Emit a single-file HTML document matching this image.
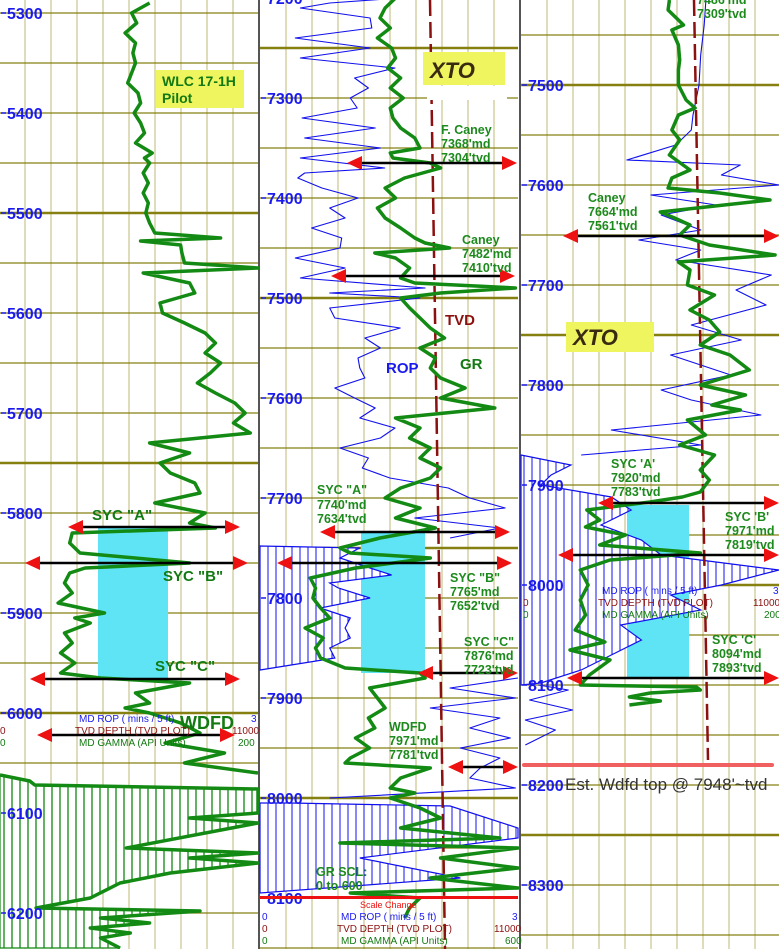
<!DOCTYPE html>
<html><head><meta charset="utf-8">
<style>
html,body{margin:0;padding:0;background:#fff;width:779px;height:949px;overflow:hidden}
svg{display:block;font-family:"Liberation Sans",sans-serif}
</style></head>
<body>
<svg id="chart" width="779" height="949" viewBox="0 0 779 949" xmlns="http://www.w3.org/2000/svg">
<defs>
<pattern id="hatchG" width="8" height="10" patternUnits="userSpaceOnUse"><rect width="8" height="10" fill="#fff"/><line x1="4" y1="0" x2="4" y2="10" stroke="#118811" stroke-width="1.3"/></pattern>
<pattern id="hatchB" width="8" height="10" patternUnits="userSpaceOnUse"><rect width="8" height="10" fill="#fff"/><line x1="4" y1="0" x2="4" y2="10" stroke="#1010ee" stroke-width="1"/></pattern>
</defs>
<g id="layer-bg"></g>
<g id="layer-fill"></g>
<g id="layer-curves"></g>
<g id="layer-ann"></g>
</svg>
<script>
// ---------- DATA ----------
const p1Ticks = [5300,5400,5500,5600,5700,5800,5900,6000,6100,6200];
const p2Ticks = [7200,7300,7400,7500,7600,7700,7800,7900,8000,8100];
const p3Ticks = [7500,7600,7700,7800,7900,8000,8100,8200,8300];

const p1GrDepth = [5290,5300,5310,5320,5330,5340,5350,5360,5370,5380,5390,5400,5410,5420,5430,5440,5445,5450,5460,5470,5480,5490,5500,5510,5520,5525,5528,5532,5540,5550,5555,5560,5570,5580,5590,5600,5610,5620,5630,5640,5650,5660,5670,5680,5690,5700,5710,5720,5730,5740,5750,5760,5770,5780,5790,5800,5810,5815,5820,5830,5840,5850,5855,5860,5870,5880,5890,5900,5905,5910,5920,5930,5940,5950,5960,5965,5970,5980,5990,5995,6000,6010,6020,6030,6040,6050,6060];
const p1Gr = [116,102,106,97,105,103,105,102,99,107,109,104,109,112,105,118,112,116,111,115,111,115,113,116,120,171,109,140,141,143,200,111,147,151,124,126,143,159,167,159,171,163,153,167,182,190,181,194,116,147,124,132,151,155,120,159,147,167,56,54,62,147,66,54,50,56,45,81,58,70,50,56,47,58,47,78,147,105,116,97,116,140,155,128,174,143,200];
const p1BackDepth = [6062,6068,6072,6076,6100,6105,6110,6135,6140,6145,6150,6160,6170,6185,6195,6198,6205,6210,6215,6220,6225,6235];
const p1Back = [0,23,27,200,200,147,200,98,200,147,200,132,93,70,28,155,78,116,70,101,78,93];

const p2GrDepth = [7200,7210,7220,7230,7240,7250,7260,7270,7280,7290,7300,7310,7320,7330,7340,7350,7355,7360,7365,7370,7380,7390,7400,7410,7420,7430,7440,7445,7450,7455,7460,7470,7480,7485,7490,7495,7500,7510,7520,7530,7540,7550,7560,7570,7580,7590,7600,7610,7620,7630,7640,7650,7660,7670,7680,7690,7700,7710,7720,7730,7740,7750,7755,7760,7770,7780,7790,7800,7810,7820,7830,7840,7850,7860,7870,7875,7880,7890,7900,7910,7920,7930,7940,7950,7960,7965,7970,7980,7990,7995,8000,8010,8020,8030,8040,8045,8050,8060,8070,8080,8090,8095,8100,8110,8120];
const p2Gr = [105,97,93,101,91,102,105,99,109,101,111,101,103,109,120,124,101,103,132,140,112,97,105,91,97,109,120,128,147,89,105,116,109,120,198,140,109,116,124,132,143,124,136,132,140,159,140,182,105,124,116,132,124,140,132,109,97,124,105,136,93,62,70,132,74,39,43,41,47,54,35,49,43,47,66,124,128,85,91,97,84,89,74,85,70,66,132,109,101,120,101,124,140,109,186,62,200,140,200,132,200,70,124,116,112];
const p2RopDepth = [7200,7205,7210,7220,7230,7240,7250,7260,7270,7280,7290,7300,7310,7320,7330,7340,7350,7360,7370,7375,7380,7390,7400,7410,7420,7430,7440,7450,7460,7470,7480,7490,7495,7500,7510,7520,7530,7540,7550,7560,7570,7580,7590,7600,7610,7620,7630,7640,7650,7660,7670,7680,7690,7700,7710,7720,7730,7740];
const p2Rop = [1.63,0.81,0.47,1.28,1.30,0.41,1.28,0.47,1.57,1.10,1.26,1.05,1.13,0.49,1.34,0.52,1.40,0.47,1.45,0.52,0.44,0.72,1.14,0.81,0.99,0.60,0.95,0.93,0.41,0.99,0.47,1.92,0.81,1.86,0.81,0.87,1.63,1.22,1.40,1.14,1.16,1.22,0.87,1.10,1.34,1.16,1.57,1.40,0.93,1.26,1.19,1.51,2.19,2.44,2.85,1.80,2.79,2.21];
const p2Rop2Depth = [7880,7890,7900,7910,7920,7930,7940,7950,7960,7970,7980,7990,8000];
const p2Rop2 = [3.0,2.21,2.97,1.98,2.79,2.44,2.91,2.33,2.79,2.56,2.44,2.97,0.81];
const p2HatchADepth = [7748,7750,7760,7770,7777,7785,7790,7800,7810,7820,7830,7840,7850,7860,7872];
const p2HatchA = [0,1.16,0.93,1.28,1.53,0.81,0.91,1.28,0.70,1.05,0.99,1.05,0.81,0.87,0];
const p2HatchBDepth = [8005,8008,8030,8040,8060,8080,8095];
const p2HatchB = [0.35,2.21,3.0,3.0,1.16,2.33,0];

const p3GrDepth = [7415,7425,7440,7445,7460,7475,7485,7500,7515,7523,7530,7545,7555,7570,7585,7593,7603,7608,7615,7627,7633,7640,7650,7660,7670,7677,7685,7700,7710,7725,7735,7747,7760,7770,7785,7800,7810,7820,7825,7835,7850,7860,7870,7885,7895,7907,7912,7917,7925,7935,7942,7950,7960,7968,7975,7985,8000,8015,8030,8045,8057,8065,8075,8090,8100,8102,8105,8108,8112,8116,8120];
const p3Gr = [115,114,126,117,122,123,122,122,128,135,122,117,123,115,131,117,114,154,193,108,119,131,123,146,197,122,131,129,150,131,146,154,139,162,177,139,174,148,170,129,143,123,150,139,146,139,125,100,51,61,50,81,61,139,69,46,52,46,50,42,65,38,69,53,46,136,139,100,84,108,84];
const p3RopDepth = [7415,7440,7470,7500,7530,7545,7560,7575,7580,7590,7600,7610,7620,7630,7645,7655,7665,7675,7690,7705,7720,7740,7755,7770,7790,7805,7815,7830,7845,7860,7870];
const p3Rop = [2.15,2.13,2.09,2.07,2.00,1.98,1.80,1.23,2.55,2.33,3.0,1.51,2.27,1.63,2.09,1.37,2.09,1.80,2.91,2.50,2.85,1.98,2.56,1.74,2.44,1.63,1.98,2.79,1.05,2.09,0.70];
const p3HatchDepth = [7870,7880,7890,7900,7912,7925,7940,7955,7970,7985,8000,8010,8025,8040,8055,8070,8085,8098,8100];
const p3Hatch = [0,0.58,0.35,0.23,1.05,1.28,0.93,1.40,1.63,3.0,2.33,1.74,2.09,1.16,1.40,1.05,0.70,0.23,0];
const p3Rop2Depth = [8100,8105,8115,8125,8135,8145,8160];
const p3Rop2 = [0.2,0.55,0.1,0.6,0.05,0.4,0.05];

// ---------- SCALES ----------
const W = 258;
const P = [
  {x0:0,   y0:13, d0:5300},
  {x0:260, y0:98, d0:7300},
  {x0:521, y0:85, d0:7500}
];
const GRMAX = 200, ROPMAX = 3;
function yAt(p,d){return P[p].y0 + (d - P[p].d0);}
function xGr(p,v){return P[p].x0 + Math.min(v,GRMAX)/GRMAX*W;}
function xRop(p,v){return P[p].x0 + Math.min(v,ROPMAX)/ROPMAX*W;}

const NS = "http://www.w3.org/2000/svg";
function mk(tag, attrs, parent){const e=document.createElementNS(NS,tag);for(const k in attrs)e.setAttribute(k,attrs[k]);parent.appendChild(e);return e;}
const bg=document.getElementById('layer-bg'), fl=document.getElementById('layer-fill'), cv=document.getElementById('layer-curves'), an=document.getElementById('layer-ann');

// ---------- GRID ----------
const gridOff=[25,26,26];
const allTicks=[p1Ticks,p2Ticks,p3Ticks];
for(let p=0;p<3;p++){
  const x0=P[p].x0;
  for(let gx=x0+gridOff[p]; gx<x0+W; gx+=26){
    const l=mk('line',{x1:gx,y1:0,x2:gx,y2:949,stroke:'#c9c58e','stroke-width':1.2},bg);
    
    
  }
  const dStart=P[p].d0-Math.floor(P[p].y0/50)*50-50;
  for(let d=dStart; yAt(p,d)<960; d+=50){
    const y=yAt(p,d); if(y<0)continue;
    const major=(d%250===0);
    const l=mk('line',{x1:x0,y1:y,x2:x0+W,y2:y,stroke:'#858010','stroke-width':major?2.5:1.3},bg);
    
    
  }
  allTicks[p].forEach(d=>{
    const y=yAt(p,d);
    const t=mk('text',{x:x0+7,y:y+6,'font-size':16,'font-weight':'bold',fill:'#1a1aee'},an);
    t.textContent=d;
    
    
    mk('line',{x1:x0+1,y1:y,x2:x0+6,y2:y,stroke:'#1a1aee','stroke-width':1.5},an);
  });
}
[258,519].forEach(x=>{
  const s=mk('rect',{x:x,y:0,width:2,height:949,fill:'#555'},bg);
  
  
});

// ---------- CYAN SYC ZONES ----------
[[0,98,527,70,152],[1,361,532,64,141],[2,627,505,62,174]].forEach(z=>{
  const r=mk('rect',{x:z[1],y:z[2],width:z[3],height:z[4],fill:'#5ee4f5'},fl);
  
  
});

function ptsOf(p,depths,vals,xf){return depths.map((d,i)=>xf(p,vals[i]).toFixed(1)+','+yAt(p,d).toFixed(1)).join(' ');}
function hatch(p,depths,vals,xf,pat,stroke,name){
  const pts=ptsOf(p,depths,vals,xf);
  const x0=P[p].x0;
  const poly=x0+','+yAt(p,depths[0])+' '+pts+' '+x0+','+yAt(p,depths[depths.length-1]);
  const g=mk('polygon',{points:poly,fill:'url(#'+pat+')',stroke:stroke,'stroke-width':1.2},fl);
  
  
}
function line(p,depths,vals,xf,color,w,name){
  const l=mk('polyline',{points:ptsOf(p,depths,vals,xf),fill:'none',stroke:color,'stroke-width':w,'stroke-linejoin':'round'},cv);
  
  
}

hatch(0,p1BackDepth,p1Back,xGr,'hatchG','#118811','gamma-backup-fill');
hatch(1,p2HatchADepth,p2HatchA,xRop,'hatchB','#1010ee','rop-wrap-fill');
hatch(1,p2HatchBDepth,p2HatchB,xRop,'hatchB','#1010ee','rop-wrap-fill');
hatch(2,p3HatchDepth,p3Hatch,xRop,'hatchB','#1010ee','rop-wrap-fill');

line(1,p2RopDepth,p2Rop,xRop,'#1010ee',1.1,'rop-curve');
line(1,p2Rop2Depth,p2Rop2,xRop,'#1010ee',1.1,'rop-curve');
line(2,p3RopDepth,p3Rop,xRop,'#1010ee',1.1,'rop-curve');
line(2,p3Rop2Depth,p3Rop2,xRop,'#1010ee',1.1,'rop-curve');

[[1,430,0,445,949],[2,694,0,708,760]].forEach(t=>{
  const l=mk('line',{x1:t[1],y1:t[2],x2:t[3],y2:t[4],stroke:'#8b1010','stroke-width':2.5,'stroke-dasharray':'16,6'},cv);
  
  
});

line(0,p1GrDepth,p1Gr,xGr,'#138a13',3.5,'gamma-curve');
line(0,p1BackDepth,p1Back,xGr,'#138a13',3.5,'gamma-backup-curve');
line(1,p2GrDepth,p2Gr,xGr,'#138a13',3.5,'gamma-curve');
line(2,p3GrDepth,p3Gr,xGr,'#138a13',3.5,'gamma-curve');

const markers=[[68,240,527],[25,248,563],[30,240,679],[37,235,735],[347,517,163],[331,515,276],[320,510,532],[277,512,563],[418,518,673],[448,518,767],[563,779,236],[598,779,503],[558,779,555],[567,779,678]];
markers.forEach(m=>{
  const g=mk('g',{},an);
  
  
  mk('line',{x1:m[0]+12,y1:m[2],x2:m[1]-12,y2:m[2],stroke:'#000','stroke-width':2.5},g);
  mk('polygon',{points:`${m[0]},${m[2]} ${m[0]+15},${m[2]-7} ${m[0]+15},${m[2]+7}`,fill:'#ee1111'},g);
  mk('polygon',{points:`${m[1]},${m[2]} ${m[1]-15},${m[2]-7} ${m[1]-15},${m[2]+7}`,fill:'#ee1111'},g);
});

let r=mk('rect',{x:260,y:896,width:258,height:3,fill:'#ee1111'},an);


r=mk('rect',{x:522,y:763,width:252,height:4,rx:2,fill:'#f06060'},an);


</script>

<svg style="position:absolute;left:0;top:0" width="779" height="949" xmlns="http://www.w3.org/2000/svg">
<g font-family="Liberation Sans, sans-serif">
  <rect x="156" y="70" width="88" height="38" fill="#eef55e"/>
  <text x="162" y="86" font-size="14" font-weight="bold" fill="#137a13">WLC 17-1H</text>
  <text x="162" y="103" font-size="14" font-weight="bold" fill="#137a13">Pilot</text>

  <g>
    <rect x="423" y="52" width="82" height="33" fill="#eef55e"/>
    <text x="430" y="78" font-size="22" font-weight="bold" font-style="italic" fill="#3a2a10">XTO</text>
    <rect x="427" y="86" width="80" height="14" fill="#fff"/>
  </g>
  <g>
    <rect x="566" y="322" width="88" height="30" fill="#eef55e"/>
    <text x="573" y="345" font-size="22" font-weight="bold" font-style="italic" fill="#3a2a10">XTO</text>
  </g>

  <g font-weight="bold" fill="#137a13" font-size="15">
    <text x="92" y="520">SYC "A"</text>
    <text x="163" y="581">SYC "B"</text>
    <text x="155" y="671">SYC "C"</text>
    <text x="180" y="729" font-size="18">WDFD</text>
  </g>

  <g font-size="12.5" font-weight="bold" fill="#1d8a1d">
    <text x="441" y="134">F. Caney</text><text x="441" y="148">7368'md</text><text x="441" y="162">7304'tvd</text>
    <text x="462" y="244">Caney</text><text x="462" y="258">7482'md</text><text x="462" y="272">7410'tvd</text>
    <text x="317" y="494">SYC "A"</text><text x="317" y="509">7740'md</text><text x="317" y="523">7634'tvd</text>
    <text x="450" y="582">SYC "B"</text><text x="450" y="596">7765'md</text><text x="450" y="610">7652'tvd</text>
    <text x="464" y="646">SYC "C"</text><text x="464" y="660">7876'md</text><text x="464" y="674">7723'tvd</text>
    <text x="389" y="731">WDFD</text><text x="389" y="745">7971'md</text><text x="389" y="759">7781'tvd</text>
    <text x="316" y="876">GR SCL:</text><text x="316" y="890">0 to 600</text>
    <text x="697" y="4">7486'md</text><text x="697" y="18">7309'tvd</text>
    <text x="588" y="202">Caney</text><text x="588" y="216">7664'md</text><text x="588" y="230">7561'tvd</text>
    <text x="611" y="468">SYC 'A'</text><text x="611" y="482">7920'md</text><text x="611" y="496">7783'tvd</text>
    <text x="725" y="521">SYC 'B'</text><text x="725" y="535">7971'md</text><text x="725" y="549">7819'tvd</text>
    <text x="712" y="644">SYC 'C'</text><text x="712" y="658">8094'md</text><text x="712" y="672">7893'tvd</text>
  </g>

  <text x="445" y="325" font-size="15" font-weight="bold" fill="#8b1010">TVD</text>
  <text x="460" y="369" font-size="15" font-weight="bold" fill="#137a13">GR</text>
  <text x="386" y="373" font-size="15" font-weight="bold" fill="#1a1aee">ROP</text>

  <g font-size="10">
    <text x="79" y="722" fill="#1a1aee">MD  ROP ( mins / 5 ft)</text>
    <text x="75" y="734" fill="#8b1010">TVD DEPTH (TVD PLOT)</text>
    <text x="79" y="746" fill="#137a13">MD GAMMA (API Units)</text>
    <text x="251" y="722" fill="#1a1aee">3</text>
    <text x="232" y="734" fill="#8b1010">11000</text>
    <text x="238" y="746" fill="#137a13">200</text>
    <text x="0" y="734" fill="#8b1010">0</text>
    <text x="0" y="746" fill="#137a13">0</text>
  </g>
  <g font-size="10">
    <text x="360" y="908" fill="#ee1111" font-size="9">Scale Change</text>
    <text x="341" y="920" fill="#1a1aee">MD  ROP ( mins / 5 ft)</text>
    <text x="337" y="932" fill="#8b1010">TVD DEPTH (TVD PLOT)</text>
    <text x="341" y="944" fill="#137a13">MD GAMMA (API Units)</text>
    <text x="262" y="920" fill="#1a1aee">0</text><text x="262" y="932" fill="#8b1010">0</text><text x="262" y="944" fill="#137a13">0</text>
    <text x="512" y="920" fill="#1a1aee">3</text><text x="494" y="932" fill="#8b1010">11000</text><text x="505" y="944" fill="#137a13">600</text>
  </g>
  <g font-size="10">
    <text x="602" y="594" fill="#1a1aee">MD  ROP ( mins / 5 ft)</text>
    <text x="598" y="606" fill="#8b1010">TVD DEPTH (TVD PLOT)</text>
    <text x="602" y="618" fill="#137a13">MD GAMMA (API Units)</text>
    <text x="523" y="606" fill="#8b1010">0</text><text x="523" y="618" fill="#137a13">0</text>
    <text x="773" y="594" fill="#1a1aee">3</text><text x="753" y="606" fill="#8b1010">11000</text><text x="764" y="618" fill="#137a13">200</text>
  </g>

  <text x="565" y="790" font-size="17" fill="#333">Est. Wdfd top @ 7948'~tvd</text>
</g>
</svg>
</body></html>
